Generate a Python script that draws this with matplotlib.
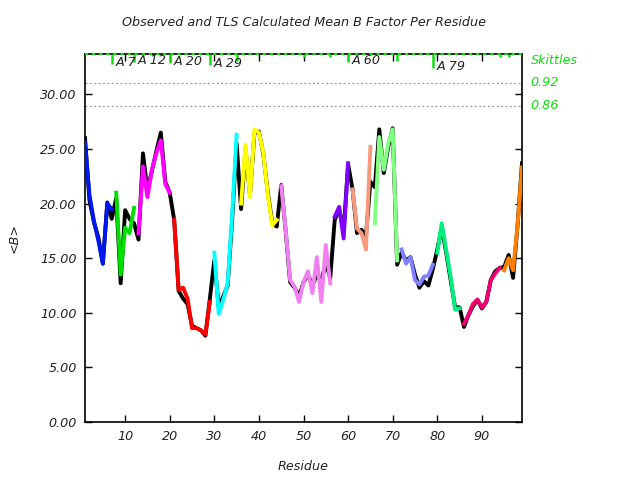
import matplotlib
matplotlib.use("Agg")
import matplotlib.pyplot as plt
import numpy as np

residues = list(range(1, 100))

observed = [26.0, 20.3, 18.3, 16.9, 14.5, 20.1, 18.6, 20.5, 12.7, 19.4,
            18.6, 18.2, 16.7, 24.6, 21.2, 23.0, 24.8, 26.5, 22.0, 21.0,
            18.5, 12.0, 11.3, 10.8, 8.8, 8.6, 8.4, 7.9, 11.3, 14.8,
            10.5, 11.5, 12.5, 18.5, 25.5, 19.5, 25.0, 20.8, 26.5, 26.6,
            24.5, 21.0, 18.2, 17.9, 21.7, 17.5, 12.8, 12.3, 11.5, 12.8,
            13.5, 12.5, 13.5, 13.0, 14.5, 13.2, 18.5, 19.5, 17.5, 23.6,
            21.3, 17.3, 17.6, 17.0, 22.0, 21.5, 26.8, 22.8, 25.2, 26.9,
            14.4, 15.5, 14.8, 15.1, 13.5, 12.3, 12.9, 12.5, 14.0, 15.8,
            17.8, 15.5, 13.0, 10.5, 10.5, 8.7, 9.8, 10.6, 11.2, 10.4,
            11.0, 13.0, 13.8, 14.1, 14.2, 15.3, 13.2, 18.0, 23.7]

# TLS groups: (first residue, last residue, colour)
group_start = [1, 8, 13, 21, 30, 36, 45, 57, 61, 66, 72, 80, 86, 95]
group_end = [7, 12, 20, 29, 35, 44, 56, 60, 65, 71, 79, 85, 94, 99]
group_color = ['#0018f0', '#00e000', '#ff00ff', '#ff0000', '#00ffff', '#ffff00',
               '#f080f0', '#8000ff', '#f8987c', '#80ff80', '#8080ff', '#00f080',
               '#f00070', '#ff8000']

calculated = [25.6, 20.8, 18.4, 16.6, 14.5, 20.0, 19.5,
              21.0, 13.5, 17.8, 17.3, 19.6,
              17.3, 23.4, 20.6, 23.1, 24.6, 25.8, 21.8, 21.0,
              18.5, 12.1, 12.3, 11.3, 8.6, 8.6, 8.4, 8.0, 11.0,
              15.5, 9.9, 11.2, 12.7, 19.0, 26.3,
              20.0, 25.4, 20.6, 26.8, 26.5, 24.6, 20.8, 18.0, 18.5,
              21.6, 17.6, 13.0, 12.4, 11.0, 12.8, 13.8, 11.8, 15.1, 11.0, 16.2, 12.7,
              18.8, 19.7, 16.8, 23.7,
              21.3, 17.7, 17.3, 15.8, 25.2,
              18.2, 26.1, 23.1, 25.5, 26.8, 14.8,
              15.8, 14.5, 15.1, 13.0, 12.6, 13.3, 13.4, 14.4,
              15.5, 18.2, 15.7, 13.3, 10.3, 10.4,
              9.0, 9.8, 10.8, 11.2, 10.5, 11.0, 13.0, 13.6, 14.1,
              13.9, 15.0, 13.9, 18.0, 23.3]

# Skittles markers along the top
skittle_res = [7, 12, 20, 29, 35, 50, 56, 60, 71, 79, 94, 96]
skittle_size = [0.92, 0.70, 0.85, 1.0, 0.64, 0.25, 0.3, 0.75, 0.64, 1.28, 0.28, 0.28]
skittle_labels = {7: 'A 7', 12: 'A 12', 20: 'A 20', 29: 'A 29', 60: 'A 60', 79: 'A 79'}
skittle_levels = [31.05, 28.95]
skittle_level_labels = ['0.92', '0.86']

ymax = 33.7
green = '#11dd11'
txtc = '#222222'
fs = 9.2

fig = plt.figure(figsize=(6.4, 4.8), dpi=100)
ax = fig.add_axes([85 / 640, 1 - 422 / 480, (522 - 85) / 640, (422 - 54) / 480])

ax.plot(residues, observed, color='black', lw=2.8, solid_joinstyle='round', zorder=2)
for s, e, c in zip(group_start, group_end, group_color):
    ax.plot(residues[s - 1:e], calculated[s - 1:e], color=c, lw=2.8,
            solid_joinstyle='round', zorder=3)

for lev in skittle_levels:
    ax.axhline(lev, color='#999999', lw=0.9, ls=(0, (1.5, 2)), zorder=1)
ax.axhline(ymax, color=green, lw=1.6, ls=(0, (1.4, 1.8)), zorder=4, clip_on=False)

for r, h in zip(skittle_res, skittle_size):
    ax.plot([r, r], [ymax, ymax - h], color=green, lw=1.8, zorder=4,
            solid_capstyle='butt')
    if r in skittle_labels:
        ax.text(r + 0.8, ymax - h + 0.15, skittle_labels[r], fontsize=fs, style='italic',
                color=txtc, ha='left', va='center', zorder=5)

ax.set_xlim(1, 99)
ax.set_ylim(0, ymax)
ax.set_xticks(range(10, 100, 10))
ax.set_yticks(np.arange(0, 31, 5))
ax.set_yticklabels(['%.2f' % v for v in np.arange(0, 31, 5)])
ax.tick_params(direction='in', length=5, width=1, top=True, right=True,
               labelsize=fs, labelcolor=txtc, pad=6)
for lbl in ax.get_xticklabels() + ax.get_yticklabels():
    lbl.set_style('italic')
for sp in ax.spines.values():
    sp.set_linewidth(1.2)

trans = ax.get_yaxis_transform()
ax.text(1.02, 33.1, 'Skittles', transform=trans, color=green, fontsize=fs,
        style='italic', va='center', ha='left')
for lev, lab in zip(skittle_levels, skittle_level_labels):
    ax.text(1.02, lev, lab, transform=trans, color=green, fontsize=fs,
            style='italic', va='center', ha='left')

ax.set_title('Observed and TLS Calculated Mean B Factor Per Residue', fontsize=fs,
             style='italic', color=txtc, pad=20)
ax.set_xlabel('Residue', fontsize=fs, style='italic', color=txtc, labelpad=12)
ax.set_ylabel('<B>', fontsize=fs, style='italic', color=txtc, labelpad=14)

fig.savefig('out.png', dpi=100)
